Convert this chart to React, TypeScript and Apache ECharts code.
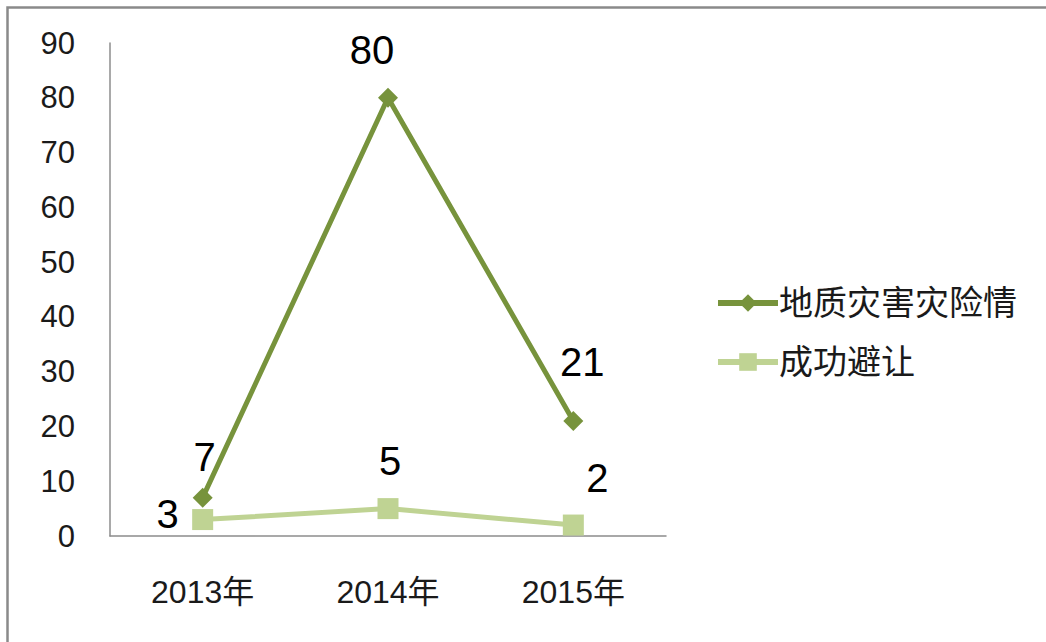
import React, { useEffect, useRef } from "react";
import * as echarts from "echarts";

const categories = ["2013年", "2014年", "2015年"];
const seriesNames = ["地质灾害灾险情", "成功避让"];
const hazardValues = [7, 80, 21];
const avoidValues = [3, 5, 2];
const hazardLabelOffsets = [[2, -41], [-16, -48], [9, -59]];
const avoidLabelOffsets = [[-35, -6], [2, -48], [24, -47]];

const FONT = "'Liberation Sans', 'Noto Sans CJK SC', sans-serif";

export default function App() {
  const ref = useRef<HTMLDivElement>(null);
  useEffect(() => {
    const chart = echarts.init(ref.current!, null, { renderer: "svg" });
    const mkData = (vals: number[], offs: number[][]) =>
      vals.map((v, i) => ({
        value: v,
        label: { offset: offs[i] },
      }));
    chart.setOption({
      animation: false,
      backgroundColor: "#ffffff",
      graphic: [
        {
          type: "rect",
          shape: { x: 7.5, y: 7.5, width: 1060, height: 660 },
          style: { fill: "none", stroke: "#8a8a8a", lineWidth: 2.5 },
          silent: true,
        },
      ],
      grid: { left: 110, right: 380, top: 43, bottom: 106 },
      legend: {
        orient: "vertical",
        left: 710,
        top: 279,
        itemWidth: 60,
        itemHeight: 22,
        itemGap: 21,
        lineStyle: { width: 6 },
        textStyle: { fontSize: 34, lineHeight: 38, color: "#1a1a1a", fontFamily: FONT, padding: [0, 0, 0, -4] },
        data: seriesNames,
      },
      xAxis: {
        type: "category",
        data: categories,
        boundaryGap: true,
        axisLine: { lineStyle: { color: "#8c8c8c", width: 1.5 } },
        axisTick: { show: false },
        axisLabel: { fontSize: 32, color: "#1a1a1a", margin: 40, fontFamily: FONT },
      },
      yAxis: {
        type: "value",
        min: 0,
        max: 90,
        interval: 10,
        splitLine: { show: false },
        axisLine: { show: true, lineStyle: { color: "#8c8c8c", width: 1.5 } },
        axisTick: { show: false },
        axisLabel: { fontSize: 31, color: "#1a1a1a", margin: 35, fontFamily: FONT },
      },
      series: [
        {
          name: seriesNames[0],
          type: "line",
          data: mkData(hazardValues, hazardLabelOffsets),
          symbol: "diamond",
          symbolSize: 20,
          color: "#77933C",
          lineStyle: { width: 5, color: "#77933C" },
          itemStyle: { color: "#77933C" },
          label: {
            show: true,
            position: "inside",
            fontSize: 40,
            color: "#000000",
            fontFamily: FONT,
          },
          z: 3,
        },
        {
          name: seriesNames[1],
          type: "line",
          data: mkData(avoidValues, avoidLabelOffsets),
          symbol: "rect",
          symbolSize: 21,
          color: "#BFD393",
          lineStyle: { width: 5, color: "#BFD393" },
          itemStyle: { color: "#BFD393" },
          label: {
            show: true,
            position: "inside",
            fontSize: 40,
            color: "#000000",
            fontFamily: FONT,
          },
          z: 2,
        },
      ],
    });
    return () => chart.dispose();
  }, []);
  return (
    <div
      ref={ref}
      style={{ position: "absolute", left: 0, top: 0, width: 1046, height: 642 }}
    />
  );
}
